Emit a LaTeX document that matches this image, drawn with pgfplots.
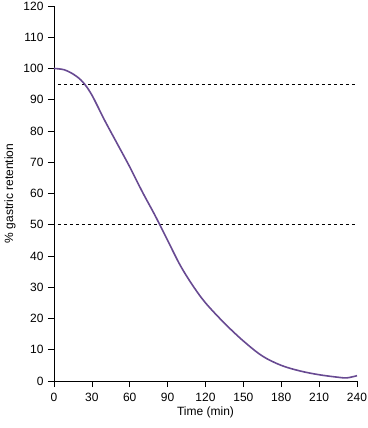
\documentclass[border=0pt]{standalone}
\usepackage{fontspec}
\setmainfont{Liberation Sans}
\usepackage{pgfplots}
\pgfplotsset{compat=1.18}
\definecolor{curve}{RGB}{104,74,146}
\begin{document}
\begin{tikzpicture}
\useasboundingbox (-54pt,-47pt) rectangle (313pt,381pt);
\begin{axis}[
  scale only axis, width=303pt, height=375pt,
  at={(0,0)}, anchor=south west,
  xmin=0, xmax=240, ymin=0, ymax=120,
  axis lines*=left, axis line style={-, line width=0.9pt},
  xtick={0,30,...,240}, ytick={0,10,...,120},
  tick align=outside, major tick length=6pt,
  tick style={black, line width=0.6pt},
  tick label style={font=\fontsize{12}{14}\selectfont},
  xticklabel style={yshift=-3pt},
  yticklabel style={xshift=-1pt},
  /pgf/number format/assume math mode=true,
  xlabel={Time (min)}, ylabel={\% gastric retention},
  every axis y label/.style={at={(axis description cs:-0.145,0.5)}, rotate=90, anchor=center, font=\fontsize{12}{14}\selectfont},
  every axis x label/.style={at={(axis description cs:0.5,-0.083)}, anchor=center, font=\fontsize{12}{14}\selectfont},
  clip=false,
]
\addplot[black, dash pattern=on 3.5pt off 2.5pt, line width=0.8pt] coordinates {(3,95) (240,95)};
\addplot[black, dash pattern=on 3.5pt off 2.5pt, line width=0.8pt] coordinates {(3,50) (240,50)};
\addplot[curve, line width=1.6pt, smooth, tension=0.55] coordinates {
(0,100) (8,99.6) (16,98) (23,95.6) (30,91.5) (40,83.5) (50,76) (60,68.5)
(70,60.5) (80,53) (90,45) (100,37) (110,30.5) (120,25) (135,18.5)
(150,12.8) (165,8.0) (180,5.0) (195,3.2) (210,2.0) (225,1.2) (232,1.0) (240,1.7)
};
\end{axis}
\end{tikzpicture}
\end{document}
